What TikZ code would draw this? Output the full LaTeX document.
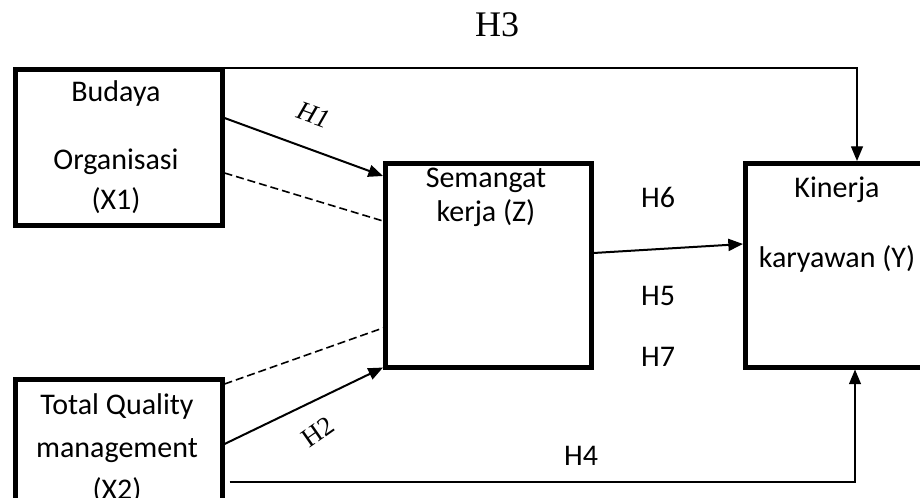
\documentclass[tikz,border=0pt]{standalone}
\usepackage{fontspec}
\setmainfont{Carlito}
\newfontfamily\serifH{Liberation Serif}
\usetikzlibrary{arrows.meta,calc}
\begin{document}
\begin{tikzpicture}[x=0.75pt,y=-0.75pt,
  box/.style={draw,line width=3.4pt,inner sep=0pt,anchor=north west},
  txt/.style={font=\fontsize{22.5}{26}\selectfont,anchor=base,inner sep=0pt},
  hlab/.style={font=\fontsize{22.5}{26}\selectfont,anchor=base,inner sep=0pt},
  tip/.style={-{Triangle[length=11pt,width=9pt]}},
  arr/.style={line width=1.5pt,tip},
  thinline/.style={line width=1pt},
  dashline/.style={line width=1.2pt,dash pattern=on 6pt off 3pt}]
\useasboundingbox (0,0) rectangle (920,498);
\clip (0,0) rectangle (920,498);
% boxes
\node[box,minimum width=155.25pt,minimum height=117pt] (x1) at (13,67) {};
\node[box,minimum width=155.25pt,minimum height=107.25pt] (x2) at (13,377) {};
\node[box,minimum width=154.5pt,minimum height=153pt] (z) at (383,161) {};
\node[box,minimum width=133.5pt,minimum height=153pt] (y) at (743,161) {};
% box texts
\node[txt] (t1a) at (116,102) {Budaya};
\node[txt] (t1b) at (116,170) {Organisasi};
\node[txt] (t1c) at (116,210) {(X1)};
\node[txt] (t2a) at (117,415) {Total Quality};
\node[txt] (t2b) at (117,457) {management};
\node[txt] (t2c) at (117,499) {(X2)};
\node[txt] (tza) at (486,188) {Semangat};
\node[txt] (tzb) at (486,222) {kerja (Z)};
\node[txt] (tya) at (837,198) {Kinerja};
\node[txt] (tyb) at (837,268) {karyawan (Y)};
% connectors
\draw[arr] ($(x1.north east)+(0,51)$) -- ($(z.north west)+(0,15)$);
\draw[dashline] ($(x1.north east)+(0,106)$) -- ($(z.north west)+(0,60)$);
\draw[dashline] ($(x2.north east)+(0,7)$) -- ($(z.north west)+(0,167)$);
\draw[arr] ($(x2.north east)+(0,67)$) -- ($(z.south west)+(0,-2)$);
\draw[arr] ($(z.north east)+(0,92)$) -- ($(y.north west)+(0,83)$);
\coordinate (c3) at (857,68);
\draw[thinline,tip] ($(x1.north east)+(0,1)$) -- (c3) -- ($(y.north west)+(114,0)$);
\coordinate (c4) at (855,482);
\draw[thinline,tip] ($(x2.north east)+(5,105)$) -- (c4) -- ($(y.south west)+(112,0)$);
% hypothesis labels
\node[font=\serifH\itshape\fontsize{20}{22}\selectfont,rotate=-20,inner sep=0pt] (h1) at (314,115) {H1};
\node[font=\serifH\fontsize{20}{22}\selectfont,rotate=35,inner sep=0pt] (h2) at (318,432) {H2};
\node[font=\serifH\fontsize{27}{30}\selectfont,anchor=base,inner sep=0pt] (h3) at (497,37) {H3};
\node[hlab] (h6) at (658,208) {H6};
\node[hlab] (h5) at (658,306) {H5};
\node[hlab] (h7) at (658,367) {H7};
\node[hlab] (h4) at (581,465) {H4};
\end{tikzpicture}
\end{document}
